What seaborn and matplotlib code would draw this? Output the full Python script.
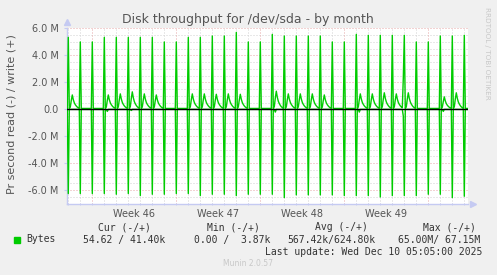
import numpy as np
import pandas as pd
import matplotlib
matplotlib.use("Agg")
import matplotlib.pyplot as plt
import seaborn as sns

# ---------------- data (values in millions) ----------------
# one large backup spike per day (2-hour average samples), day index 0..33
spike_write = [5.33, 4.99, 4.99, 5.33, 5.33, 5.33, 5.33, 5.33, 4.99, 4.99, 5.33, 5.33,
               5.43, 5.43, 5.70, 4.99, 4.99, 5.55, 5.43, 5.43, 5.43, 5.43, 4.99, 4.99,
               5.55, 5.48, 5.48, 5.48, 5.48, 4.99, 4.99, 5.43, 5.43, 5.48]
spike_read = [6.25, 6.25, 6.25, 6.25, 6.30, 6.25, 6.40, 6.30, 6.30, 6.25, 6.25, 6.40,
              6.30, 6.30, 6.40, 6.30, 6.30, 6.30, 6.55, 6.35, 6.35, 6.35, 6.35, 6.40,
              6.40, 6.40, 6.50, 6.40, 6.40, 6.40, 6.30, 6.30, 6.55, 6.45]
# secondary write bump a few hours after the spike (weekdays only)
bump_peak = [1.00, 0, 0, 1.00, 1.08, 1.23, 1.08, 1.00, 0, 0, 1.08, 1.08,
             1.05, 1.08, 1.05, 0, 0, 1.28, 1.08, 1.08, 1.08, 1.00, 0, 0,
             1.08, 1.08, 1.16, 1.08, 1.16, 0, 0, 0.86, 1.16, 0]
# shape of the bump, sample by sample after the spike (relative to peak)
bump_shape = [0.0, 0.1, 0.6, 1.0, 0.65, 0.42, 0.28, 0.18, 0.10, 0.05]
# small read dips after the spike
read_dip = [0, 0, 0, 0.15, 0, 0.08, 0, 0, 0, 0, 0, 0,
            0, 0, 0, 0, 0, 0.20, 0, 0, 0, 0, 0, 0,
            0.20, 0, 0, 0, 0, 0, 0, 0.15, 0, 0]
base_write = 0.06
base_read = 0.01
anomaly_day = 28
anomaly_write = 2.3
anomaly_read = 0.5

week_labels = ["Week 46", "Week 47", "Week 48", "Week 49"]
week_starts = [0, 7, 14, 21, 28]          # Mondays, days since Mon 10 Nov 2025
ytick_vals = [-6, -4, -2, 0, 2, 4, 6]

# ---------------- build the 2-hour series ----------------
first_spike = -1.95          # day offset of the first spike
rows = []
for i in range(-1, 401):
    k, off = divmod(i, 12)
    t = first_spike + i / 12.0
    w, r = base_write, base_read
    if 0 <= k < len(spike_write):
        if off == 0:
            w, r = spike_write[k], spike_read[k]
        elif 1 <= off <= len(bump_shape):
            w = base_write + bump_peak[k] * bump_shape[off - 1]
        if off == 3:
            r = base_read + read_dip[k]
    if i == anomaly_day * 12 - 1:
        w, r = anomaly_write, anomaly_read
    rows.append((t, w, -r))
df = pd.DataFrame(rows, columns=["t", "write", "read"])

# ---------------- figure ----------------
W, H = 497, 275
fig = plt.figure(figsize=(W / 100, H / 100), dpi=100, facecolor="#F0F0F0")
x0, x1, ytop, ybot = 67, 468, 28.3, 203.7
ax = fig.add_axes([x0 / W, 1 - ybot / H, (x1 - x0) / W, (ybot - ytop) / H])
ax.set_facecolor("white")

xmin = -(91.7 - x0) / 12.0
xmax = (x1 - 91.7) / 12.0
ax.set_xlim(xmin, xmax)
ax.set_ylim(-7, 6)

grid_gray = "#D2D2D2"
grid_red = "#E6A8A8"
axis_col = "#C5CAF2"
dots = (0, (1, 2))

# horizontal grid
for v in np.arange(-7, 6.01, 0.5):
    if v in ytick_vals:
        continue
    ax.axhline(v, color=grid_gray, lw=0.72, ls=dots, zorder=1)
for v in ytick_vals:
    ax.axhline(v, color=grid_red, lw=0.72, ls=dots, zorder=1)
# vertical grid
for d in range(-2, 32):
    if d in week_starts:
        ax.axvline(d, color=grid_red, lw=0.72, ls=dots, zorder=1)
    else:
        ax.axvline(d, color=grid_gray, lw=0.72, ls=dots, zorder=1)

green = "#00CC00"
sns.lineplot(data=df, x="t", y="write", ax=ax, color=green, lw=1.0,
             estimator=None, sort=False, zorder=3)
sns.lineplot(data=df, x="t", y="read", ax=ax, color=green, lw=1.0,
             estimator=None, sort=False, zorder=3)
ax.axhline(0, color="black", lw=1.0, zorder=4)

# axes styling
for s in ["top", "right"]:
    ax.spines[s].set_visible(False)
for s in ["left", "bottom"]:
    ax.spines[s].set_color(axis_col)
    ax.spines[s].set_linewidth(1.0)
ax.plot([0], [1.035], marker="^", color=axis_col, ms=4, transform=ax.transAxes,
        clip_on=False)
ax.plot([1.012], [0], marker=">", color=axis_col, ms=4, transform=ax.transAxes,
        clip_on=False)

ax.set_yticks(ytick_vals)
ax.set_yticklabels(["0.0" if v == 0 else f"{v:.1f} M" for v in ytick_vals])
ax.set_xticks([s + 3.5 for s in week_starts[:4]])
ax.set_xticklabels(week_labels)
ax.set_xticks(range(-2, 32), minor=True)
ax.tick_params(axis="x", which="major", length=0, pad=4, labelsize=7, labelcolor="#555555")
ax.tick_params(axis="x", which="minor", length=2, color=axis_col, direction="inout")
ax.tick_params(axis="y", which="major", length=2, color=axis_col, pad=4,
               labelsize=7, labelcolor="#555555")
ax.set_xlabel("")
ax.set_ylabel("")

# texts
fig.text(247.7 / W, 1 - 19 / H, "Disk throughput for /dev/sda - by month",
         ha="center", va="center", fontsize=9, color="#555555")
fig.text(12 / W, 1 - 114 / H, "Pr second read (-) / write (+)", rotation=90,
         ha="center", va="center", fontsize=8, color="#555555")
fig.text(487 / W, 1 - 53 / H, "RRDTOOL / TOBI OETIKER", rotation=270,
         ha="center", va="center", fontsize=5.2, color="#C8C8C8")

mono = dict(family="DejaVu Sans Mono", fontsize=7, color="#333333", va="center")
fig.text(98.3 / W, 1 - 227.3 / H, "Cur (-/+)", ha="left", **mono)
fig.text(206.7 / W, 1 - 227.3 / H, "Min (-/+)", ha="left", **mono)
fig.text(315 / W, 1 - 227.3 / H, "Avg (-/+)", ha="left", **mono)
fig.text(422.7 / W, 1 - 227.3 / H, "Max (-/+)", ha="left", **mono)
fig.text(26.7 / W, 1 - 239.5 / H, "Bytes", ha="left", **mono)
fig.text(82.7 / W, 1 - 239.5 / H, "54.62 / 41.40k", ha="left", **mono)
fig.text(194 / W, 1 - 239.5 / H, "0.00 /  3.87k", ha="left", **mono)
fig.text(287.3 / W, 1 - 239.5 / H, "567.42k/624.80k", ha="left", **mono)
fig.text(398.3 / W, 1 - 239.5 / H, "65.00M/ 67.15M", ha="left", **mono)
fig.text(482.7 / W, 1 - 251.7 / H, "Last update: Wed Dec 10 05:05:00 2025", ha="right", **mono)
fig.text(247.7 / W, 1 - 263.3 / H, "Munin 2.0.57", ha="center", va="center",
         fontsize=5.5, color="#C8C8C8")
fig.patches.append(plt.Rectangle((14 / W, 1 - 243 / H), 6 / W, 6 / H,
                                 transform=fig.transFigure, color=green))

fig.savefig("out.png", dpi=100, facecolor=fig.get_facecolor())
